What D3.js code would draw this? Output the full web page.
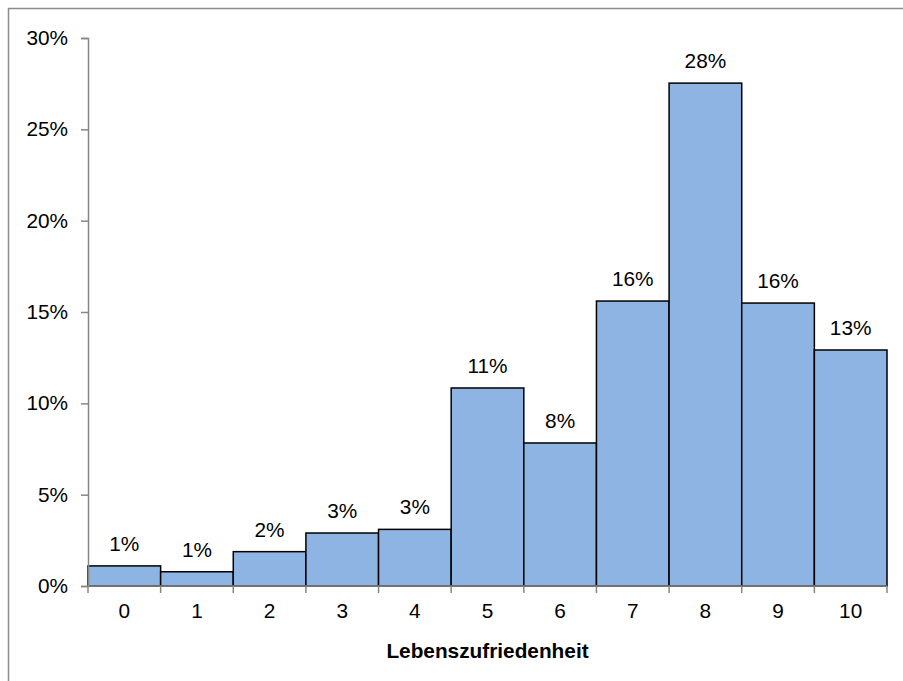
<!DOCTYPE html>
<html>
<head>
<meta charset="utf-8">
<script src="https://cdn.jsdelivr.net/npm/d3@7"></script>
<style>
  body { margin: 0; background: #fff; }
  svg { font-family: "Liberation Sans", Arial, sans-serif; }
</style>
</head>
<body>
<script>
const categories = ["0", "1", "2", "3", "4", "5", "6", "7", "8", "9", "10"];
const shares = [1.1, 0.78, 1.88, 2.9, 3.1, 10.84, 7.83, 15.6, 27.53, 15.49, 12.92];
const labels = ["1%", "1%", "2%", "3%", "3%", "11%", "8%", "16%", "28%", "16%", "13%"];
const yTicks = [0, 5, 10, 15, 20, 25, 30];

const width = 903, height = 681;
const margin = {top: 38, right: 16, bottom: 95, left: 88};
const fontSize = "20.8px";

const svg = d3.select("body").append("svg")
	.attr("width", width)
	.attr("height", height);

// outer frame
svg.append("rect")
	.attr("x", 8.5).attr("y", 8.5)
	.attr("width", 900).attr("height", 680)
	.attr("fill", "none")
	.attr("stroke", "#8c8c8c")
	.attr("stroke-width", 1.5);

const x = d3.scaleBand()
	.domain(categories)
	.range([margin.left, width - margin.right])
	.paddingInner(0).paddingOuter(0);

const y = d3.scaleLinear()
	.domain([0, 30])
	.range([height - margin.bottom, margin.top]);

// bars
svg.selectAll(".bar")
	.data(shares)
	.enter()
	.append("rect")
		.attr("class", "bar")
		.attr("x", (d, i) => x(categories[i]))
		.attr("y", (d) => y(d))
		.attr("width", x.bandwidth())
		.attr("height", (d) => y(0) - y(d))
		.attr("fill", "#8EB4E3")
		.attr("stroke", "#000")
		.attr("stroke-width", 1.5);

// value labels
svg.selectAll(".lbl")
	.data(shares)
	.enter()
	.append("text")
		.attr("class", "lbl")
		.attr("x", (d, i) => x(categories[i]) + x.bandwidth() / 2)
		.attr("y", (d) => y(d) - 15)
		.attr("text-anchor", "middle")
		.attr("font-size", fontSize)
		.attr("fill", "#000")
		.text((d, i) => labels[i]);

// y axis
const yAxis = d3.axisLeft(y)
	.tickValues(yTicks)
	.tickFormat((d) => d + "%")
	.tickSize(7)
	.tickSizeOuter(7)
	.tickPadding(13);

const yg = svg.append("g")
	.attr("transform", `translate(${margin.left},0)`)
	.call(yAxis);
yg.attr("font-size", fontSize).attr("font-family", "Liberation Sans, Arial, sans-serif");
yg.select(".domain").attr("stroke", "#868686").attr("stroke-width", 1.5);
yg.selectAll(".tick line").attr("stroke", "#868686").attr("stroke-width", 1.5);
yg.selectAll(".tick text").attr("fill", "#000");

// x axis: ticks at category boundaries
const xg = svg.append("g")
	.attr("transform", `translate(0,${y(0)})`);
xg.append("line")
	.attr("x1", margin.left).attr("x2", width - margin.right)
	.attr("stroke", "#868686").attr("stroke-width", 1.5);
const bounds = categories.map((c) => x(c)).concat([x(categories[categories.length - 1]) + x.bandwidth()]);
xg.selectAll(".xt")
	.data(bounds)
	.enter()
	.append("line")
		.attr("x1", (d) => d).attr("x2", (d) => d)
		.attr("y1", 0).attr("y2", 7)
		.attr("stroke", "#868686").attr("stroke-width", 1.5);
xg.selectAll(".xl")
	.data(categories)
	.enter()
	.append("text")
		.attr("x", (d) => x(d) + x.bandwidth() / 2)
		.attr("y", 32)
		.attr("text-anchor", "middle")
		.attr("font-size", fontSize)
		.attr("fill", "#000")
		.text((d) => d);

// axis title
svg.append("text")
	.attr("x", (margin.left + width - margin.right) / 2)
	.attr("y", 658)
	.attr("text-anchor", "middle")
	.attr("font-size", fontSize)
	.attr("font-weight", "bold")
	.text("Lebenszufriedenheit");
</script>
</body>
</html>
